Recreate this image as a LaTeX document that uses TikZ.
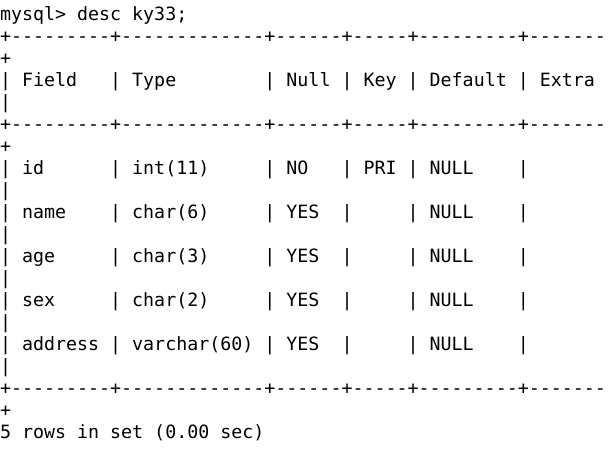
\documentclass[tikz,border=0pt]{standalone}
\usepackage{fontspec}
\setmonofont{DejaVu Sans Mono}
\tikzset{
	term/.style = {anchor=base west, inner sep=0pt, outer sep=0pt,
		font=\ttfamily\fontsize{18.3}{22}\selectfont}
}
\newcommand{\sepline}{+---------+-------------+------+-----+---------+-------}

\begin{document}
\begin{tikzpicture}[x=11.0175pt, y=-22pt]
	\useasboundingbox (0pt,20.7pt) rectangle (609pt,-444.3pt);
	\draw
	node at (0,0)[term] (prompt) {mysql> desc ky33;}
	node at (0,1)[term] (top) {\sepline}
	node at (0,2)[term] (topend) {+}
	node at (0,4)[term] (headend) {|}
	node at (0,5)[term] (mid) {\sepline}
	node at (0,6)[term] (midend) {+}
	node at (0,17)[term] (bot) {\sepline}
	node at (0,18)[term] (botend) {+}
	node at (0,19)[term] (rows) {5 rows in set (0.00 sec)};
	
	% header row
	\foreach \c in {0,10,24,31,37,47}
		\draw node at (\c,3)[term] (h\c) {|};
	\foreach \c/\t in {2/Field,12/Type,26/Null,33/Key,39/Default,49/Extra}
		\draw node at (\c,3)[term] (ht\c) {\t};
	
	% data rows
	\foreach \fld/\typ/\nul/\key [count=\r from 0] in
		{id/int(11)/NO/PRI, name/char(6)/YES/{}, age/char(3)/YES/{},
		 sex/char(2)/YES/{}, address/varchar(60)/YES/{}}{
		\pgfmathtruncatemacro{\y}{7+2*\r}
		\foreach \c in {0,10,24,31,37,47}
			\draw node at (\c,\y)[term] (p\r-\c) {|};
		\draw
		node at (2,\y)[term] (f\r) {\fld}
		node at (12,\y)[term] (t\r) {\typ}
		node at (26,\y)[term] (n\r) {\nul}
		node at (33,\y)[term] (k\r) {\key}
		node at (39,\y)[term] (d\r) {NULL}
		node at (0,\y+1)[term] (e\r) {|};
	}
	
\end{tikzpicture}
\end{document}
